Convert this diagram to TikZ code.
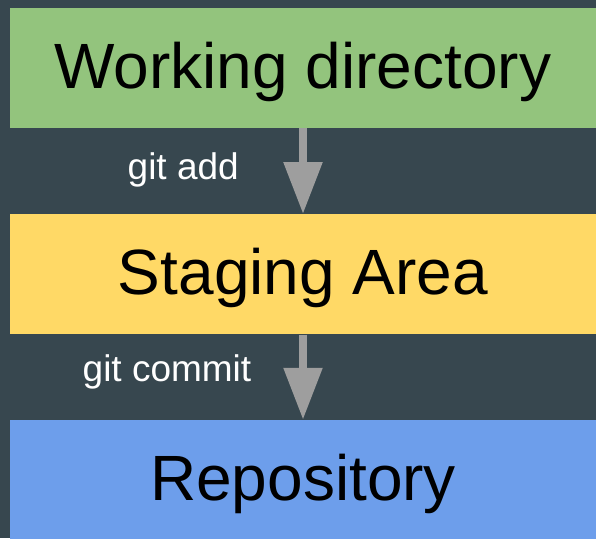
\documentclass[tikz,border=0pt]{standalone}
\usepackage{fontspec}
\setmainfont{Liberation Sans}
\usetikzlibrary{arrows.meta}
\definecolor{bgc}{HTML}{37474F}
\definecolor{greenc}{HTML}{93C47D}
\definecolor{yellowc}{HTML}{FFD966}
\definecolor{bluec}{HTML}{6D9EEB}
\definecolor{arrowc}{HTML}{9E9E9E}
\tikzset{
  stagebox/.style={fill=#1, draw=none, inner sep=0pt, minimum width=586pt, minimum height=120pt,
    text height=46pt, text depth=5pt,
    font=\fontsize{64pt}{70pt}\selectfont, text=black},
  cmdlabel/.style={inner sep=0pt, anchor=base west, text=white, font=\fontsize{37pt}{42pt}\selectfont},
  flow/.style={draw=arrowc, line width=8.5pt, -{Triangle[length=52pt,width=37pt]}}
}
\begin{document}
\begin{tikzpicture}[x=1pt,y=-1pt]
  \fill[bgc] (0,0) rectangle (596,538);
  \useasboundingbox (0,0) rectangle (596,538);
  \node[stagebox=greenc] (wd) at (303,68) {Working directory};
  \node[stagebox=yellowc] (sa) at (303,274.3) {Staging Area};
  \node[stagebox=bluec] (repo) at (303,480) {Repository};
  \draw[flow] (wd.south) -- (sa.north);
  \draw[flow] (sa.south) -- (repo.north);
  \node[cmdlabel] (add) at (127.5,179) {git add};
  \node[cmdlabel] (commit) at (82.5,381.5) {git commit};
\end{tikzpicture}
\end{document}
